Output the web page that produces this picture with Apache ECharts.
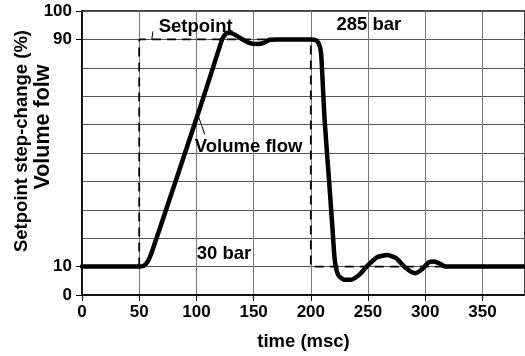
<!DOCTYPE html>
<html>
<head>
<meta charset="utf-8">
<script src="https://cdn.jsdelivr.net/npm/echarts@6/dist/echarts.min.js"></script>
<style>
  html, body { margin: 0; padding: 0; background: #fff; }
  #chart { width: 525px; height: 356px; }
</style>
</head>
<body>
<div id="chart"></div>
<script>
// volume flow response (thick line)
const flowTime = [0, 50, 54, 57, 60, 68, 105.6, 120, 123, 127, 132, 139, 146, 153, 159, 164, 170, 200, 204, 207, 209, 212, 216, 219, 221, 224, 229, 235, 242, 250, 258, 267, 275, 283, 291, 297, 303, 308, 313, 318, 387];
const flowValue = [10, 10, 10.3, 11.5, 14, 23.4, 68.9, 87, 90.5, 92.3, 92, 90.3, 88.8, 88.4, 88.8, 89.9, 90, 90, 89.8, 88.5, 85, 62, 40, 23, 12, 7, 5.4, 5.4, 7, 10.5, 13.3, 14.1, 12.8, 9.5, 7.7, 9, 11.5, 11.8, 11, 10, 10];
// setpoint step (dashed)
const setTime = [50, 50, 200, 200, 320];
const setValue = [10, 90, 90, 10, 10];
const yTickLabels = [0, 10, 90, 100];
// annotations: text, x, y (data units)
const notes = [
  ['Setpoint', 67, 94.3],
  ['285 bar', 222.4, 95.1],
  ['Volume flow', 98.6, 52.1],
  ['30 bar', 100.3, 14.3]
];
const leaders = [
  [[61, 90], [62, 92.8]],
  [[102, 62.6], [107.3, 56.6]]
];

const font = "'Liberation Sans', Arial, sans-serif";
const textFont = 'bold 18.5px ' + font;
const chart = echarts.init(document.getElementById('chart'));

const pairs = (xs, ys) => xs.map((x, i) => [x, ys[i]]);

chart.setOption({
  animation: false,
  textStyle: { fontFamily: font },
  grid: {
    left: 82, top: 11, right: -1, bottom: 59,
    show: true, borderColor: '#000', borderWidth: 1.5, backgroundColor: 'transparent'
  },
  xAxis: {
    type: 'value',
    min: 0, max: 387.2, interval: 50,
    name: 'time (msc)',
    nameLocation: 'middle',
    nameGap: 37,
    nameTextStyle: { color: '#000', fontSize: 18.5, fontWeight: 'bold', fontFamily: font },
    axisLine: { lineStyle: { color: '#000', width: 1.5 } },
    axisTick: { show: true, length: 6, lineStyle: { color: '#000' } },
    axisLabel: { color: '#000', fontSize: 17, fontWeight: 'bold', margin: 9, showMaxLabel: false, fontFamily: font },
    splitLine: { show: true, lineStyle: { color: '#777', width: 1 } }
  },
  yAxis: [{
    type: 'value',
    min: 0, max: 100, interval: 10,
    axisLine: { show: false },
    axisTick: { show: false },
    axisLabel: { show: false },
    splitLine: { show: true, lineStyle: { color: '#555', width: 1 } }
  }, {
    type: 'value',
    min: 0, max: 100, interval: 10,
    position: 'left',
    axisLine: { show: true, lineStyle: { color: '#000', width: 1.5 } },
    axisTick: { show: true, length: 6, customValues: yTickLabels, lineStyle: { color: '#000' } },
    axisLabel: { color: '#000', fontSize: 17, fontWeight: 'bold', margin: 10, customValues: yTickLabels, fontFamily: font },
    splitLine: { show: false }
  }],
  series: [
    {
      type: 'line',
      data: pairs(setTime, setValue),
      showSymbol: false,
      lineStyle: { color: '#000', width: 1.8, type: [9, 6] },
      z: 2
    },
    {
      type: 'line',
      data: pairs(flowTime, flowValue),
      showSymbol: false,
      smooth: 0.2,
      lineStyle: { color: '#000', width: 4.5, cap: 'round', join: 'round' },
      z: 3
    }
  ].concat(leaders.map(l => ({
    type: 'line',
    data: l,
    showSymbol: false,
    lineStyle: { color: '#000', width: 1 },
    z: 2
  })))
});

const graphics = notes.map(n => {
  const p = chart.convertToPixel({ gridIndex: 0 }, [n[1], n[2]]);
  return {
    type: 'text', x: p[0], y: p[1], z: 10,
    style: { text: n[0], fill: '#000', font: textFont, textAlign: 'left', textVerticalAlign: 'middle' }
  };
});
graphics.push({
  type: 'text', x: 22, y: 141, rotation: Math.PI / 2, z: 10,
  style: { text: 'Setpoint step-change (%)', fill: '#000', font: textFont, textAlign: 'center', textVerticalAlign: 'middle' }
});
graphics.push({
  type: 'text', x: 43, y: 127, rotation: Math.PI / 2, z: 10,
  style: { text: 'Volume folw', fill: '#000', font: 'bold 21.5px ' + font, textAlign: 'center', textVerticalAlign: 'middle' }
});
chart.setOption({ graphic: graphics });
</script>
</body>
</html>
